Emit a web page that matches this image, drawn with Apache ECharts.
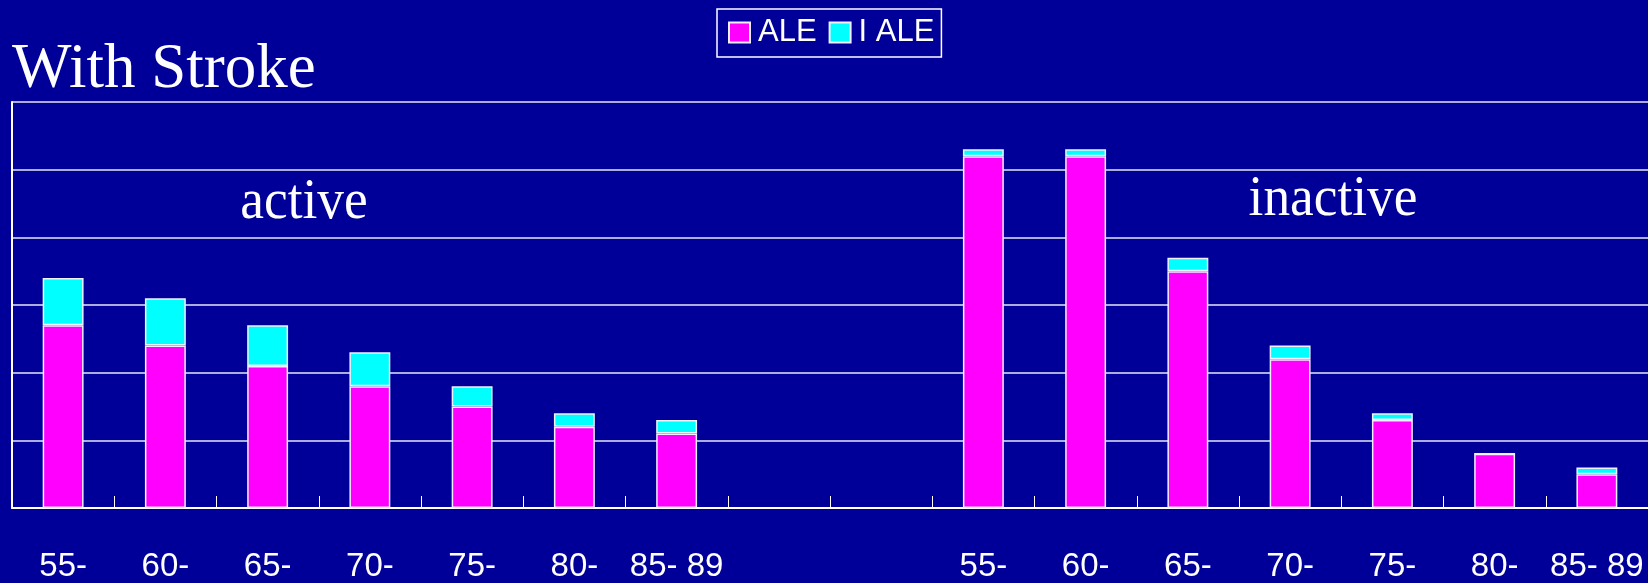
<!DOCTYPE html>
<html>
<head>
<meta charset="utf-8">
<script src="https://cdn.jsdelivr.net/npm/echarts@6/dist/echarts.min.js"></script>
<style>
html,body{margin:0;padding:0;background:#000099;}
#chart{width:1648px;height:583px;}
</style>
</head>
<body>
<div id="chart"></div>
<script>
var ageGroups = ['55-', '60-', '65-', '70-', '75-', '80-', '85- 89'];
var gapSlots = ['', ''];
var activeALE = [2.7, 2.4, 2.1, 1.8, 1.5, 1.2, 1.1];
var activeIALE = [0.7, 0.7, 0.6, 0.5, 0.3, 0.2, 0.2];
var inactiveALE = [5.2, 5.2, 3.5, 2.2, 1.3, 0.8, 0.5];
var inactiveIALE = [0.1, 0.1, 0.2, 0.2, 0.1, 0, 0.1];
var seriesNames = ['ALE', 'I ALE'];
var titleText = 'With Stroke';
var groupLabels = ['active', 'inactive'];
var yMin = 0, yMax = 6, yStep = 1;

var categories = ageGroups.concat(gapSlots, ageGroups);
var gapNulls = gapSlots.map(function () { return null; });
var aleData = activeALE.concat(gapNulls, inactiveALE);
var ialeData = activeIALE.concat(gapNulls, inactiveIALE);

var serif = 'Liberation Serif, Times New Roman, serif';
var sans = 'Liberation Sans, Arial, sans-serif';

var chart = echarts.init(document.getElementById('chart'), null, {renderer: 'canvas'});
chart.setOption({
  backgroundColor: '#000099',
  animation: false,
  grid: {left: 12, right: 0, top: 102, bottom: 74, containLabel: false},
  legend: {
    data: seriesNames,
    left: 717, top: 9,
    icon: 'rect',
    itemWidth: 21, itemHeight: 20, itemGap: 12,
    padding: [8, 7, 9, 11],
    borderColor: '#ffffff', borderWidth: 1.5,
    backgroundColor: '#000099',
    textStyle: {color: '#ffffff', fontSize: 31, fontFamily: sans, padding: [0, 0, 0, 3]}
  },
  xAxis: {
    type: 'category',
    data: categories,
    boundaryGap: true,
    axisLine: {show: true, lineStyle: {color: '#ffffff', width: 2}},
    axisTick: {show: true, inside: true, length: 12, interval: 0, lineStyle: {color: '#ffffff', width: 1}},
    axisLabel: {interval: 0, color: '#ffffff', fontSize: 33, fontFamily: sans, margin: 42}
  },
  yAxis: {
    type: 'value',
    min: yMin, max: yMax, interval: yStep,
    axisLine: {show: true, lineStyle: {color: '#ffffff', width: 2}},
    axisTick: {show: false},
    axisLabel: {show: false},
    splitLine: {show: true, lineStyle: {color: '#e6e6f5', width: 1.5}}
  },
  series: [
    {
      name: seriesNames[0], type: 'bar', stack: 'total', data: aleData,
      barWidth: '40%',
      itemStyle: {color: '#ff00ff', borderColor: '#f0f0ff', borderWidth: 1.5}
    },
    {
      name: seriesNames[1], type: 'bar', stack: 'total', data: ialeData,
      barWidth: '40%',
      itemStyle: {color: '#00ffff', borderColor: '#f0f0ff', borderWidth: 1.5}
    }
  ],
  graphic: [
    {type: 'text', left: 12, top: 39, style: {text: titleText, fill: '#ffffff', fontSize: 63, fontFamily: serif}},
    {type: 'text', x: 304, y: 232, scaleX: 0.92, style: {text: groupLabels[0], fill: '#ffffff', fontSize: 58, fontFamily: serif, textAlign: 'center', textVerticalAlign: 'bottom'}},
    {type: 'text', x: 1333, y: 229, scaleX: 0.92, style: {text: groupLabels[1], fill: '#ffffff', fontSize: 58, fontFamily: serif, textAlign: 'center', textVerticalAlign: 'bottom'}}
  ]
});
</script>
</body>
</html>
